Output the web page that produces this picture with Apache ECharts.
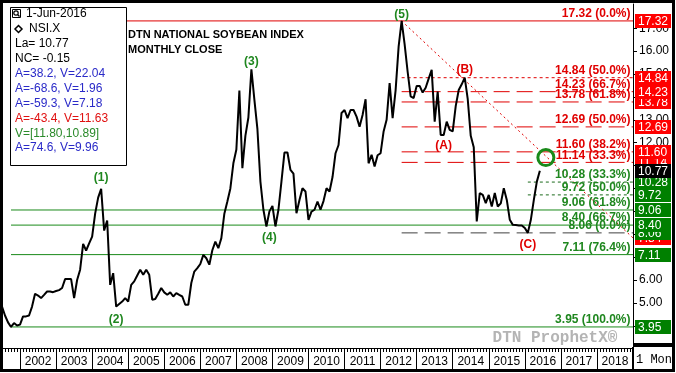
<!DOCTYPE html>
<html>
<head>
<meta charset="utf-8">
<script src="https://cdn.jsdelivr.net/npm/echarts@6/dist/echarts.min.js"></script>
<style>
html,body{margin:0;padding:0;background:#fff;}
#chart{width:676px;height:373px;}
</style>
</head>
<body>
<div id="chart"></div>
<script>
// ---------------- DATA ----------------
const firstYear = 2001, firstMonthNum = 7;      // first monthly close: Jul 2001
const lastAxisMonth = '2019-01';                 // right edge of time axis
const monthlyCloses = [
  // 2001 Jul-Dec
  4.84, 4.45, 4.15, 3.95, 4.12, 4.01,
  // 2002
  4.05, 4.41, 4.41, 4.45, 4.84, 5.40, 5.32, 5.21, 5.35, 5.50, 5.50, 5.47,
  // 2003
  5.52, 5.56, 5.65, 6.04, 6.04, 6.04, 5.21, 6.00, 6.45, 7.58, 7.29, 7.60,
  // 2004
  7.90, 8.90, 9.60, 9.98, 8.16, 8.60, 5.79, 6.30, 4.84, 4.95, 5.06, 5.21,
  // 2005
  5.06, 5.79, 5.94, 6.20, 6.45, 6.23, 6.45, 6.23, 5.14, 5.17, 5.40, 5.65,
  // 2006
  5.46, 5.36, 5.46, 5.28, 5.43, 5.35, 5.28, 4.92, 4.92, 5.87, 6.37, 6.52,
  // 2007
  6.70, 7.10, 6.95, 6.67, 7.30, 7.68, 7.39, 7.83, 8.90, 9.43, 10.00, 11.10,
  // 2008
  11.70, 14.28, 10.89, 12.30, 13.10, 15.21, 13.87, 12.60, 10.30, 9.07, 8.34, 9.00,
  // 2009
  9.24, 8.34, 9.07, 10.30, 11.57, 11.57, 10.81, 10.65, 8.92, 9.50, 10.01, 9.87,
  // 2010
  8.63, 8.99, 9.07, 9.43, 9.07, 9.45, 10.01, 9.87, 10.50, 11.54, 11.90, 13.30,
  // 2011
  13.43, 13.07, 13.43, 13.43, 13.14, 12.70, 13.21, 13.90, 11.10, 11.47, 10.96, 11.45,
  // 2012
  11.54, 12.49, 13.00, 14.60, 13.07, 14.30, 16.20, 17.32, 16.30, 15.10, 14.02, 13.95,
  // 2013
  14.48, 14.48, 14.19, 14.40, 14.80, 15.18, 12.92, 14.23, 12.34, 12.34, 12.92, 12.56,
  // 2014
  12.49, 13.60, 14.30, 14.55, 14.84, 13.90, 12.30, 11.80, 8.56, 9.80, 9.72, 9.36,
  // 2015
  9.72, 9.21, 9.80, 9.21, 9.35, 10.01, 9.50, 8.63, 8.41, 8.40, 8.38, 8.38,
  // 2016 Jan-Jun
  8.27, 8.06, 8.63, 9.50, 10.30, 10.77
];

// Retracement levels
const levelValues = [17.32, 14.84, 14.23, 13.78, 12.69, 11.60, 11.14, 10.28, 9.72, 9.06, 8.40, 8.06, 7.11, 3.95];
const levelPcts   = ['0.0%','50.0%','66.7%','61.8%','50.0%','38.2%','33.3%','33.3%','50.0%','61.8%','66.7%','0.0%','76.4%','100.0%'];
const levelStarts = ['2001-10','2012-08','2012-08','2012-08','2012-08','2012-08','2012-08','2016-02','2016-02','2001-10','2001-10','2012-08','2001-10','2001-10'];
const levelKinds  = ['redSolid','redDot','redDash','redDash','redDash','redDash','redDash','greenDot','greenDot','greenSolid','greenSolid','grayDash','greenSolid','greenSolid'];

// Trend line (from wave (5) high to right edge)
const trendDates  = ['2012-08', '2019-01'];
const trendValues = [17.32, 7.84];

// Wave labels
const waveNames  = ['(1)','(2)','(3)','(4)','(5)','(A)','(B)','(C)'];
const waveDates  = ['2004-04','2004-09','2008-06','2008-12','2012-08','2013-10','2014-05','2016-02'];
const waveValues = [10.45, 4.26, 15.52, 7.83, 17.58, 11.87, 15.18, 7.54];

// Circle marker
const circleDate = '2016-08';
const circleValue = 11.35;

// y-axis tick labels
const yTickValues = [4,5,6,7,8,9,10,11,12,13,14,15,16,17];

// Info box lines
const infoLines = ['1-Jun-2016','NSI.X','La= 10.77','NC= -0.15','A=38.2, V=22.04','A=-68.6, V=1.96','A=-59.3, V=7.18','A=-43.4, V=11.63','V=[11.80,10.89]','A=74.6, V=9.96'];

// ---------------- STYLE ----------------
const FONT = "Arial, 'Liberation Sans', sans-serif";
const RED = '#e00000', GREEN = '#1f871f', BLUE = '#2a2ac8';
const kindStyle = {
  redSolid:   {color:'#e00000', width:1, type:'solid'},
  redDot:     {color:'#e00000', width:1, type:[3,3]},
  redDash:    {color:'#e00000', width:1, type:[16,7]},
  greenDot:   {color:'#1d6b1d', width:1, type:[3,3]},
  greenSolid: {color:'#1a8a1a', width:1, type:'solid'},
  grayDash:   {color:'#404040', width:1, type:[16,7]}
};
const infoColors = ['#000','#000','#000','#000',BLUE,BLUE,BLUE,'#e01010','#2a8a2a',BLUE];

// categories
const cats = [];
{
  let y = firstYear, m = firstMonthNum;
  while (true) {
    const s = y + '-' + String(m).padStart(2,'0');
    cats.push(s);
    if (s === lastAxisMonth) break;
    m++; if (m > 12) { m = 1; y++; }
  }
}

const series = [];
levelValues.forEach((v, k) => {
  series.push({
    type:'line', silent:true, symbol:'none', z:2,
    data:[[levelStarts[k], v], [lastAxisMonth, v]],
    lineStyle: kindStyle[levelKinds[k]]
  });
});
series.push({
  type:'line', silent:true, symbol:'none', z:3,
  data: trendDates.map((d,i)=>[d, trendValues[i]]),
  lineStyle:{color:'#e00000', width:1, type:[2,3]}
});
series.push({
  type:'line', silent:true, symbol:'none', z:5,
  data: monthlyCloses,
  lineStyle:{color:'#000', width:2}
});
series.push({
  type:'scatter', silent:true, symbolSize:1, z:6,
  itemStyle:{color:'rgba(0,0,0,0)', opacity:1},
  data: levelValues.map((v,k)=>({
    value:[lastAxisMonth, v],
    label:{show:true, position:'left', distance:2, offset:[0,-7],
      formatter: v.toFixed(2)+' ('+levelPcts[k]+')',
      color: k < 7 ? RED : GREEN, fontSize:12, fontWeight:'bold', fontFamily:FONT,
      textBorderWidth:0, opacity:1}
  }))
});
series.push({
  type:'scatter', silent:true, symbolSize:1, z:6,
  itemStyle:{color:'rgba(0,0,0,0)', opacity:1},
  data: waveNames.map((n,k)=>({
    value:[waveDates[k], waveValues[k]],
    label:{show:true, position:'inside', formatter:n,
      color: k < 5 ? GREEN : RED, fontSize:12, fontWeight:'bold', fontFamily:FONT,
      textBorderWidth:0, opacity:1}
  }))
});
series.push({
  type:'scatter', silent:true, symbol:'circle', symbolSize:16, z:7,
  itemStyle:{color:'rgba(0,0,0,0)', borderColor:'#1a8a1a', borderWidth:3, opacity:1},
  data:[[circleDate, circleValue]]
});

const option = {
  animation:false,
  backgroundColor:'#fff',
  grid:{left:2, right:43, top:4, bottom:25, containLabel:false},
  xAxis:[{
    type:'category', data:cats, boundaryGap:false, position:'bottom',
    axisLine:{show:true, lineStyle:{color:'#000', width:1}},
    axisTick:{show:true, length:24, interval:(i,v)=>v.endsWith('-01'), lineStyle:{color:'#000'}},
    axisLabel:{show:true, interval:(i,v)=>v.endsWith('-07') && i>0, formatter:v=>v.slice(0,4),
      color:'#000', fontSize:12, fontFamily:FONT, margin:8},
    splitLine:{show:false}
  },{
    type:'category', data:cats, boundaryGap:false, position:'bottom', offset:0,
    axisLine:{show:false},
    axisTick:{show:true, length:4, interval:0, lineStyle:{color:'#000'}},
    axisLabel:{show:false}, splitLine:{show:false}
  }],
  yAxis:{
    type:'value', position:'right', min:3.03, max:18.06, scale:true,
    axisLine:{show:true, lineStyle:{color:'#000'}},
    axisTick:{show:true, length:4, customValues:yTickValues, lineStyle:{color:'#000'}},
    axisLabel:{show:true, customValues:yTickValues, formatter:v=>v.toFixed(2), color:'#000', fontSize:12, fontFamily:FONT, margin:6},
    splitLine:{show:false}
  },
  series
};

const chart = echarts.init(document.getElementById('chart'));
chart.setOption(option);

// ---------------- ANNOTATION GRAPHICS ----------------
const G = [];
let z = 20;
function box(v, fill, label) {
  const y = chart.convertToPixel({yAxisIndex:0}, v);
  G.push({type:'rect', z:z++, silent:true, shape:{x:635, y:Math.round(y-7), width:36, height:14}, style:{fill:fill}});
  G.push({type:'text', z:z++, silent:true, x:638, y:Math.round(y)+0.5,
    style:{text:label, fill:'#fff', font:'12px '+FONT, verticalAlign:'middle', textVerticalAlign:'middle'}});
}
// trend end value (under the others)
box(trendValues[1], '#ff0000', trendValues[1].toFixed(2));
// levels from bottom to top so upper boxes overlap lower ones
for (let k = levelValues.length-1; k >= 0; k--) {
  box(levelValues[k], k < 7 ? '#ff0000' : '#008000', levelValues[k].toFixed(2));
}
// last close
const lastClose = monthlyCloses[monthlyCloses.length-1];
box(lastClose, '#000', lastClose.toFixed(2));

// info box
G.push({type:'rect', z:50, silent:true, shape:{x:10.5, y:7.5, width:116, height:158}, style:{fill:'#fff', stroke:'#000', lineWidth:1}});
// magnifier icon
G.push({type:'rect', z:51, silent:true, shape:{x:12.5, y:9.5, width:8, height:8}, style:{fill:'#fff', stroke:'#000', lineWidth:1}});
G.push({type:'circle', z:52, silent:true, shape:{cx:16, cy:13, r:2.2}, style:{fill:'none', stroke:'#000', lineWidth:1.2}});
G.push({type:'line', z:52, silent:true, shape:{x1:17.5, y1:14.5, x2:19.5, y2:16.5}, style:{stroke:'#000', lineWidth:1.2}});
// diamond
G.push({type:'polygon', z:51, silent:true, shape:{points:[[18.5,25.5],[22,29],[18.5,32.5],[15,29]]}, style:{fill:'#fff', stroke:'#000', lineWidth:1.5}});
infoLines.forEach((t,i)=>{
  const x = i===0 ? 26 : (i===1 ? 29 : 15);
  G.push({type:'text', z:53, silent:true, x:x, y:14 + i*14.9,
    style:{text:t, fill:infoColors[i], font:'12px '+FONT, verticalAlign:'middle', textVerticalAlign:'middle'}});
});

// title
G.push({type:'text', z:53, silent:true, x:128, y:35, style:{text:'DTN NATIONAL SOYBEAN INDEX', fill:'#000', font:'bold 11px '+FONT, verticalAlign:'middle', textVerticalAlign:'middle'}});
G.push({type:'text', z:53, silent:true, x:128, y:50, style:{text:'MONTHLY CLOSE', fill:'#000', font:'bold 11px '+FONT, verticalAlign:'middle', textVerticalAlign:'middle'}});

// watermark
G.push({type:'text', z:15, silent:true, x:555, y:338, style:{text:'DTN ProphetX\u00AE', fill:'#b4b4b4', font:"bold 16px 'Liberation Mono', 'DejaVu Sans Mono', monospace", align:'center', textAlign:'center', verticalAlign:'middle', textVerticalAlign:'middle'}});

// bottom-right period box
G.push({type:'rect', z:60, silent:true, shape:{x:633, y:343, width:41, height:4}, style:{fill:'#000'}});
G.push({type:'line', z:60, silent:true, shape:{x1:632.5, y1:347, x2:632.5, y2:372}, style:{stroke:'#000', lineWidth:1}});
G.push({type:'text', z:60, silent:true, x:636, y:360, style:{text:'1 Mon', fill:'#000', font:"12px 'Liberation Mono', monospace", verticalAlign:'middle', textVerticalAlign:'middle'}});

// outer frame
G.push({type:'rect', z:200, silent:true, shape:{x:1.5, y:1.5, width:672, height:369}, style:{fill:'none', stroke:'#000', lineWidth:3}});

chart.setOption({graphic: G});
</script>
</body>
</html>
